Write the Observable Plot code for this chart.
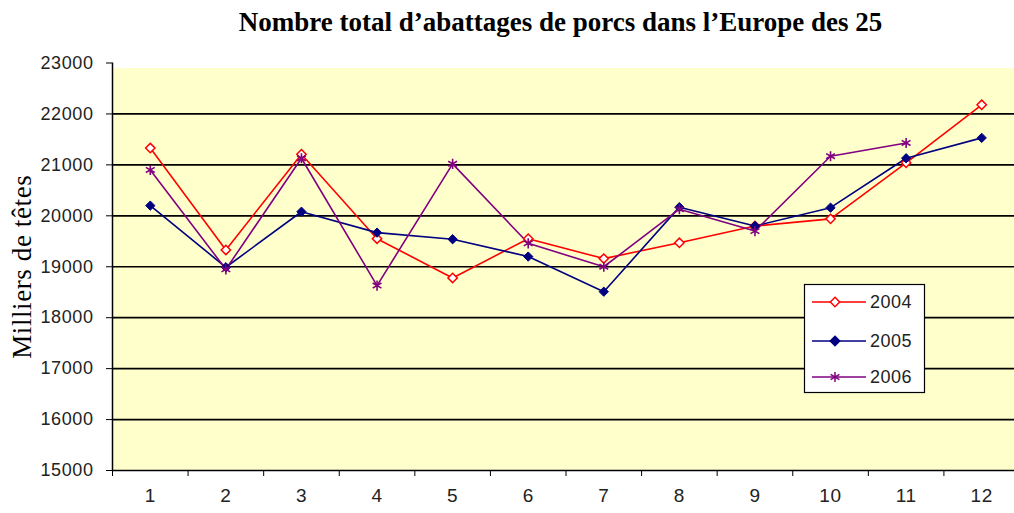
<!DOCTYPE html>
<html><head><meta charset="utf-8">
<script src="https://cdn.jsdelivr.net/npm/d3@7"></script>
<script src="https://cdn.jsdelivr.net/npm/@observablehq/plot@0.6"></script>
<style>
body{margin:0;background:#fff;width:1014px;height:513px;overflow:hidden;position:relative}
#title{height:42px;box-sizing:border-box;padding-top:9px;padding-left:107px;text-align:center;font:bold 27px "Liberation Serif",serif;line-height:27px;white-space:nowrap}
#legend{position:absolute;left:804px;top:284px}
svg{overflow:visible}
</style></head><body>
<div id="title"></div><div id="chart"></div><div id="legend"></div>
<script>
const titleText = "Nombre total d’abattages de porcs dans l’Europe des 25";
const yLabel = "Milliers de têtes";
const months = [1,2,3,4,5,6,7,8,9,10,11,12];
const years = ["2004","2005","2006"];
const v2004 = [21330,19330,21210,19550,18780,19550,19160,19470,19800,19940,21040,22180];
const v2005 = [20200,18990,20080,19670,19540,19200,18510,20170,19800,20160,21130,21530];
const v2006 = [20900,18950,21130,18630,21020,19460,19000,20130,19700,21170,21430,null];
const yTicks = [15000,16000,17000,18000,19000,20000,21000,22000,23000];

const colors = ["#ff0000","#000080","#800080"];
const series = [v2004, v2005, v2006];
const rows = [];
years.forEach((yr, i) => months.forEach((m, j) => {
  if (series[i][j] != null) rows.push({year: yr, month: m, value: series[i][j]});
}));
const of = yr => rows.filter(d => d.year === yr);

document.getElementById("title").textContent = titleText;

const tickFont = '"Liberation Sans", Arial, sans-serif';
const bounds = d3.range(0.5, 13, 1);

const chart = Plot.plot({
  width: 1014, height: 471,
  marginLeft: 112, marginRight: 0, marginTop: 20.5, marginBottom: 43,
  style: {fontFamily: tickFont, fontSize: "18px", color: "#222", background: "transparent", letterSpacing: "0.6px"},
  x: {domain: [0.5, 12.5], range: [112, 1019]},
  y: {domain: [15000, 23000]},
  color: {domain: years, range: colors},
  marks: [
    Plot.frame({fill: "#ffffcc", stroke: null, insetTop: 5}),
    Plot.gridY(yTicks.slice(1, -1), {stroke: "#000", strokeOpacity: 1, strokeWidth: 1.7}),
    Plot.ruleX([0.5], {stroke: "#000", strokeWidth: 1.5}),
    Plot.ruleY([15000], {stroke: "#000", strokeWidth: 1.5}),
    Plot.axisY({ticks: yTicks, tickFormat: "d", tickSize: 6, tickPadding: 13, label: null, stroke: "#000", fill: "#222"}),
    Plot.axisX({ticks: bounds, tickFormat: () => "", tickSize: 6, label: null, stroke: "#000"}),
    Plot.axisX({ticks: months, tickFormat: "d", tickSize: 0, tickPadding: 18, label: null, fill: "#222", fontSize: 19}),
    Plot.text([yLabel], {frameAnchor: "left", textAnchor: "middle", dx: -90, rotate: -90, fontSize: 27, fontFamily: '"Liberation Serif", serif', fill: "#000"}),
    Plot.line(rows, {x: "month", y: "value", z: "year", stroke: "year", strokeWidth: 1.6}),
    Plot.dot(of("2004"), {x: "month", y: "value", symbol: "diamond2", r: 4.2, fill: "#ffffff", stroke: colors[0], strokeWidth: 1.5}),
    Plot.dot(of("2005"), {x: "month", y: "value", symbol: "diamond2", r: 4.2, fill: colors[1], stroke: colors[1], strokeWidth: 1}),
    Plot.dot(of("2006"), {x: "month", y: "value", symbol: "asterisk", r: 4.8, fill: "none", stroke: colors[2], strokeWidth: 1.6})
  ]
});
document.getElementById("chart").appendChild(chart);

// legend
const symNames = [d3.symbolDiamond2, d3.symbolDiamond2, d3.symbolAsterisk];
const symR = [4.2, 4.2, 4.8];
const symFill = ["#ffffff", colors[1], "none"];
const lg = d3.select("#legend").append("svg").attr("width", 122).attr("height", 110);
lg.append("rect").attr("x", 0.5).attr("y", 0.5).attr("width", 120).attr("height", 108)
  .attr("fill", "#fff").attr("stroke", "#000").attr("stroke-width", 1.2);
const rowY = [18, 57, 93];
years.forEach((yr, i) => {
  const g = lg.append("g").attr("transform", `translate(0,${rowY[i]})`);
  g.append("line").attr("x1", 8).attr("x2", 62).attr("stroke", colors[i]).attr("stroke-width", 1.6);
  g.append("path").attr("transform", "translate(31,0)")
    .attr("d", d3.symbol(symNames[i], Math.PI * symR[i] * symR[i])())
    .attr("fill", symFill[i]).attr("stroke", colors[i]).attr("stroke-width", 1.5);
  g.append("text").attr("x", 66).attr("dy", "0.35em").text(yr)
    .attr("font-family", tickFont).attr("font-size", 18).attr("letter-spacing", "0.5px").attr("fill", "#222");
});
</script>
</body></html>
